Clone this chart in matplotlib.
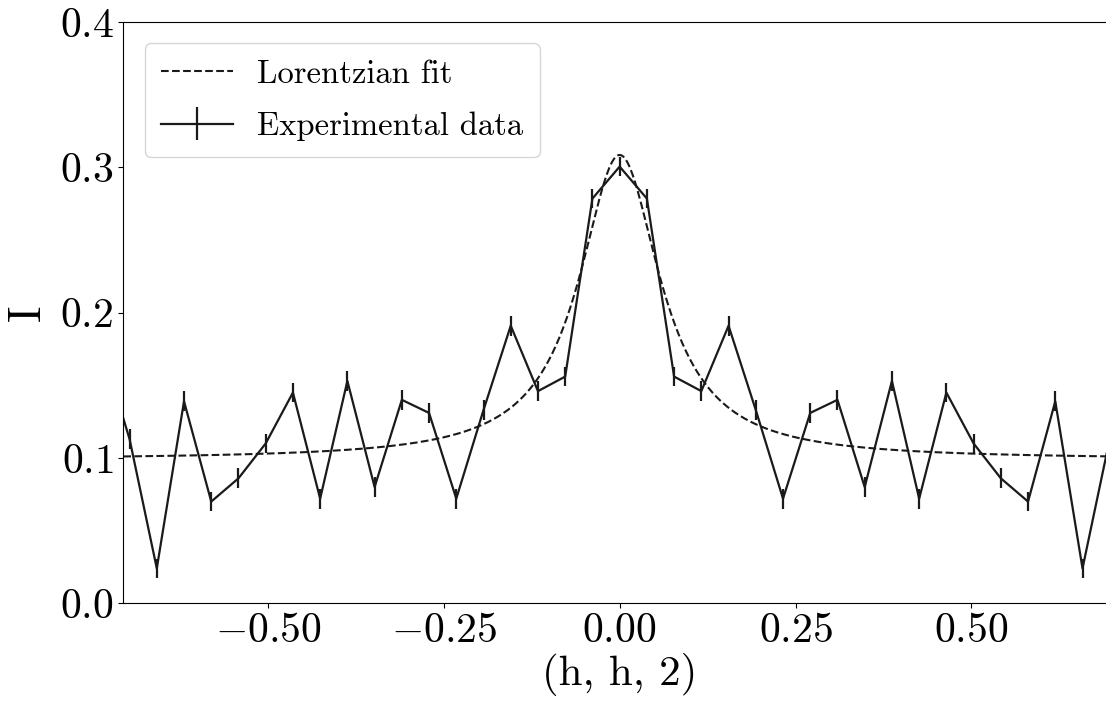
import matplotlib
matplotlib.use("Agg")
import matplotlib.pyplot as plt
import numpy as np

plt.rcParams['font.family'] = 'serif'
plt.rcParams['font.serif'] = ['cmr10']
plt.rcParams['mathtext.fontset'] = 'cm'
plt.rcParams['axes.formatter.use_mathtext'] = True

# Experimental data (h, h, 2) scan
h_values = [-0.7353, -0.6966, -0.6579, -0.6192, -0.5805, -0.5418, -0.5031, -0.4644,
            -0.4257, -0.3870, -0.3483, -0.3096, -0.2709, -0.2322, -0.1935, -0.1548,
            -0.1161, -0.0774, -0.0387, 0.0, 0.0387, 0.0774, 0.1161, 0.1548, 0.1935,
            0.2322, 0.2709, 0.3096, 0.3483, 0.3870, 0.4257, 0.4644, 0.5031, 0.5418,
            0.5805, 0.6192, 0.6579, 0.6966, 0.7353]
intensity = [0.175, 0.113, 0.024, 0.139, 0.070, 0.086, 0.110, 0.145,
             0.072, 0.153, 0.080, 0.140, 0.131, 0.072, 0.133, 0.191,
             0.146, 0.156, 0.2785, 0.3005, 0.2785, 0.156, 0.146, 0.191, 0.133,
             0.072, 0.131, 0.140, 0.080, 0.153, 0.072, 0.145, 0.110, 0.086,
             0.070, 0.139, 0.024, 0.113, 0.175]
intensity_err = 0.0068

# Lorentzian fit parameters
fit_baseline = 0.099
fit_amplitude = 0.2095
fit_center = 0.0
fit_hwhm = 0.070

x_ticks = [-0.50, -0.25, 0.00, 0.25, 0.50]
x_tick_labels = [r'$-0.50$', r'$-0.25$', r'$0.00$', r'$0.25$', r'$0.50$']
y_ticks = [0.0, 0.1, 0.2, 0.3, 0.4]
y_tick_labels = [r'$0.0$', r'$0.1$', r'$0.2$', r'$0.3$', r'$0.4$']

W, H = 1106, 704
fig = plt.figure(figsize=(W / 100, H / 100), dpi=100)
left_px, right_px, top_px, bottom_px = 123.3, 1116.0, 22.0, 603.3
ax = fig.add_axes([left_px / W, 1 - bottom_px / H,
                   (right_px - left_px) / W, (bottom_px - top_px) / H])

xlim = (-0.7055, 0.7055)
h_fit = np.linspace(xlim[0], xlim[1], 800)
fit_curve = fit_baseline + fit_amplitude / (1 + ((h_fit - fit_center) / fit_hwhm) ** 2)

ax.plot(h_fit, fit_curve, linestyle='--', color='#1a1a1a', linewidth=1.5,
        label='Lorentzian fit')
ax.errorbar(h_values, intensity, yerr=intensity_err, color='#1a1a1a',
            linewidth=1.6, elinewidth=1.6, capsize=0, label='Experimental data')

ax.set_xlim(*xlim)
ax.set_ylim(0, 0.4)
ax.set_xticks(x_ticks)
ax.set_yticks(y_ticks)
ax.set_xticklabels(x_tick_labels)
ax.set_yticklabels(y_tick_labels)
ax.tick_params(labelsize=30)
ax.set_xlabel('(h, h, 2)', fontsize=31, labelpad=2)
ax.set_ylabel('I', fontsize=33, labelpad=8)

ax.legend(loc='upper left', fontsize=23.5, handlelength=2.2, handletextpad=0.75,
          borderpad=0.5, labelspacing=0.7, borderaxespad=0.65)

fig.savefig('out.png', dpi=100)
